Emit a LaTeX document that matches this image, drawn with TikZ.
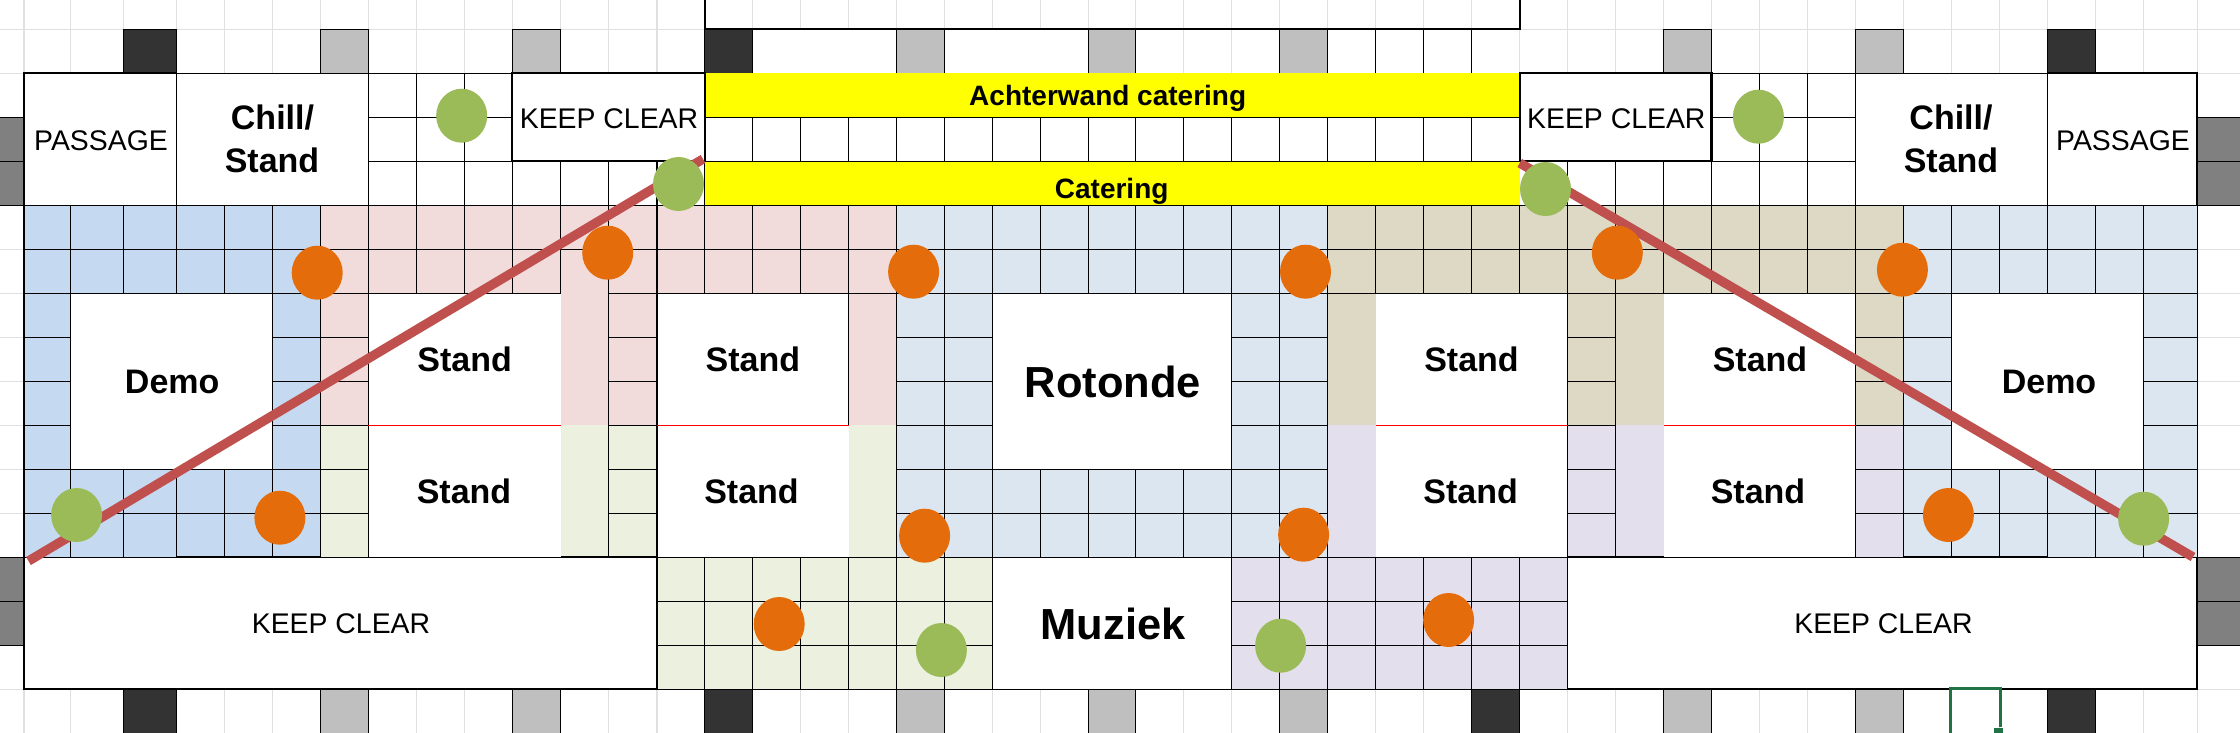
\documentclass[tikz,border=0pt]{standalone}
\usepackage{fontspec}
\setmainfont{Liberation Sans}
\usetikzlibrary{shapes.geometric}
\definecolor{gridlight}{HTML}{E0E0E0}
\definecolor{bandblue}{HTML}{C5D9F1}
\definecolor{bandpale}{HTML}{DCE6F1}
\definecolor{bandpink}{HTML}{F2DCDB}
\definecolor{bandtan}{HTML}{DDD9C4}
\definecolor{bandgreen}{HTML}{EBF1DE}
\definecolor{bandlav}{HTML}{E4DFEC}
\definecolor{dotorange}{HTML}{E46C0A}
\definecolor{dotgreen}{HTML}{9BBB59}
\definecolor{slashred}{HTML}{C0504D}
\definecolor{selgreen}{HTML}{217346}
\definecolor{cdark}{HTML}{333333}
\definecolor{cgray}{HTML}{BFBFBF}
\definecolor{cmid}{HTML}{808080}
\definecolor{banneryellow}{HTML}{FFFF00}
\definecolor{purered}{HTML}{FF0000}
\tikzset{
  thincell/.style={draw=black,line width=0.8pt},
  heavy/.style={draw=black,line width=1.6pt},
  slash/.style={draw=slashred,line width=7pt},
  dotbase/.style={ellipse,inner sep=0pt,minimum width=38.25pt,minimum height=40.5pt,draw=none},
  odot/.style={dotbase,fill=dotorange},
  gdot/.style={dotbase,fill=dotgreen},
  lbl/.style={anchor=base,inner sep=0pt,text=black},
  plainlbl/.style={lbl,font=\fontsize{21.3pt}{21.3pt}\selectfont},
  standlbl/.style={lbl,font=\bfseries\fontsize{25.5pt}{25.5pt}\selectfont},
  biglbl/.style={lbl,font=\bfseries\fontsize{32.6pt}{32.6pt}\selectfont},
  bannerlbl/.style={lbl,font=\bfseries\fontsize{21pt}{21pt}\selectfont},
}
\newcommand\cellsgrid[5]{%
  \fill[#1] (x#2|-y#3) rectangle (x#4|-y#5);
  \foreach \a in {#2,...,#4}{\draw[thincell] (x\a|-y#3) -- (x\a|-y#5);}
  \foreach \b in {#3,...,#5}{\draw[thincell] (x#2|-y\b) -- (x#4|-y\b);}
}
\newcommand\plainbox[5]{\fill[#1] (x#2|-y#3) rectangle (x#4|-y#5);}
\newcommand\edgebox[5]{\filldraw[fill=#1,thincell] (x#2|-y#3) rectangle (x#4|-y#5);}
\newcommand\vseg[3]{\draw[thincell] (x#1|-y#2) -- (x#1|-y#3);}
\newcommand\hseg[3]{\draw[thincell] (x#1|-y#3) -- (x#2|-y#3);}
\newcommand\hheavy[3]{\draw[heavy] (x#1|-y#3) -- (x#2|-y#3);}
\begin{document}
\begin{tikzpicture}[x=0.75pt,y=-0.75pt]
\useasboundingbox (0,0) rectangle (2240,732);
\fill[white] (0,0) rectangle (2240,732);
\foreach \v [count=\i from 0] in {24,70.3,123.4,176.5,224.4,272.7,320.6,368.4,416.7,464.6,512.4,560.8,608.6,657,704.8,752.4,800.7,848.6,896.4,944.7,992.6,1040.4,1088.8,1135.6,1183.5,1231.8,1279.7,1327.5,1375.8,1423.7,1471.5,1519.7,1567.5,1615.4,1663.7,1711.5,1759.4,1807.7,1855.5,1903.4,1951.7,1999.6,2047.9,2095.7,2143.6,2197.2,2250}
  {\coordinate (x\i) at (\v,0);}
\foreach \v [count=\i from 0] in {29.3,73.3,117.3,161.3,205.3,249.3,293.3,337.3,381.3,425.3,469.3,513.3,557.3,601.3,645.3,689.3,740}
  {\coordinate (y\i) at (0,\v);}
\coordinate (xm) at (-10,0);
\coordinate (ym) at (0,-10);
% light sheet grid
\foreach \i in {0,...,45}{\draw[gridlight,line width=0.8pt] (x\i|-ym) -- (x\i|-y16);}
\foreach \k in {0,...,15}{\draw[gridlight,line width=0.8pt] (xm|-y\k) -- (x46|-y\k);}
% strip above the hall
\plainbox{white}{15}{0}{18}{1}
\plainbox{white}{19}{0}{22}{1}
\foreach \i in {27,28,29,30}{\vseg{\i}{0}{1}}
\hseg{16}{17}{1}
\hseg{19}{21}{1}
\hseg{25}{26}{1}
\hseg{27}{30}{1}
\foreach \i/\c in {2/cdark,6/cgray,10/cgray,14/cdark,18/cgray,22/cgray,26/cgray,34/cgray,38/cgray,42/cdark}{
  \pgfmathtruncatemacro\j{\i+1}
  \edgebox{\c}{\i}{0}{\j}{1}
}
\foreach \i/\c in {2/cdark,6/cgray,10/cgray,14/cdark,18/cgray,22/cgray,26/cgray,30/cdark,34/cgray,38/cgray,42/cdark}{
  \pgfmathtruncatemacro\j{\i+1}
  \edgebox{\c}{\i}{15}{\j}{16}
}
\draw[heavy] (x14|-ym) -- (x14|-y0) -- (x31|-y0) -- (x31|-ym);
% side doors
\fill[cmid] (xm|-y2) rectangle (x0|-y4);
\draw[thincell] (xm|-y2) -- (x0|-y2) (xm|-y3) -- (x0|-y3) (xm|-y4) -- (x0|-y4);
\fill[cmid] (xm|-y12) rectangle (x0|-y14);
\draw[thincell] (xm|-y12) -- (x0|-y12) (xm|-y13) -- (x0|-y13) (xm|-y14) -- (x0|-y14);
\fill[cmid] (x45|-y2) rectangle (x46|-y4);
\draw[thincell] (x45|-y2) -- (x46|-y2) (x45|-y3) -- (x46|-y3) (x45|-y4) -- (x46|-y4);
\fill[cmid] (x45|-y12) rectangle (x46|-y14);
\draw[thincell] (x45|-y12) -- (x46|-y12) (x45|-y13) -- (x46|-y13) (x45|-y14) -- (x46|-y14);
% upper white cells
\cellsgrid{white}{7}{1}{10}{4}
\cellsgrid{white}{10}{3}{14}{4}
\cellsgrid{white}{14}{2}{31}{3}
\cellsgrid{white}{31}{3}{35}{4}
\cellsgrid{white}{35}{1}{38}{4}
% main band
\cellsgrid{bandblue}{0}{4}{6}{6}
\cellsgrid{bandpink}{6}{4}{18}{6}
\cellsgrid{bandpale}{18}{4}{27}{6}
\cellsgrid{bandtan}{27}{4}{39}{6}
\cellsgrid{bandpale}{39}{4}{45}{6}
% left demo
\cellsgrid{bandblue}{0}{6}{1}{10}
\cellsgrid{bandblue}{5}{6}{6}{10}
\cellsgrid{bandblue}{0}{10}{6}{12}
% aisles, pink over green
\cellsgrid{bandpink}{6}{6}{7}{9}
\cellsgrid{bandgreen}{6}{9}{7}{12}
\plainbox{bandpink}{11}{6}{12}{9}
\plainbox{bandgreen}{11}{9}{12}{12}
\cellsgrid{bandpink}{12}{6}{13}{9}
\cellsgrid{bandgreen}{12}{9}{13}{12}
\plainbox{bandpink}{17}{6}{18}{9}
\plainbox{bandgreen}{17}{9}{18}{12}
% rotonde surround
\cellsgrid{bandpale}{18}{6}{20}{12}
\cellsgrid{bandpale}{25}{6}{27}{12}
\cellsgrid{bandpale}{20}{10}{25}{12}
% right aisles
\plainbox{bandtan}{27}{6}{28}{9}
\plainbox{bandlav}{27}{9}{28}{12}
\cellsgrid{bandtan}{32}{6}{33}{9}
\cellsgrid{bandlav}{32}{9}{33}{12}
\plainbox{bandtan}{33}{6}{34}{9}
\plainbox{bandlav}{33}{9}{34}{12}
\cellsgrid{bandtan}{38}{6}{39}{9}
\cellsgrid{bandlav}{38}{9}{39}{12}
% right demo
\cellsgrid{bandpale}{39}{6}{40}{10}
\cellsgrid{bandpale}{44}{6}{45}{10}
\cellsgrid{bandpale}{39}{10}{45}{12}
% bottom band
\cellsgrid{bandgreen}{13}{12}{20}{15}
\cellsgrid{bandlav}{25}{12}{32}{15}
% white stands and boxes
\edgebox{white}{0}{1}{3}{4}
\edgebox{white}{3}{1}{7}{4}
\edgebox{white}{38}{1}{42}{4}
\edgebox{white}{42}{1}{45}{4}
\edgebox{white}{1}{6}{5}{10}
\edgebox{white}{40}{6}{44}{10}
\edgebox{white}{20}{6}{25}{10}
\edgebox{white}{20}{12}{25}{15}
\plainbox{white}{7}{6}{11}{12}
\plainbox{white}{13}{6}{17}{12}
\plainbox{white}{28}{6}{32}{12}
\plainbox{white}{34}{6}{38}{12}
\foreach \i in {7,12,13,27,32,33,38}{\vseg{\i}{6}{12}}
\vseg{17}{6}{9}
\hseg{7}{11}{6}
\hseg{13}{18}{6}
\hseg{27}{32}{6}
\hseg{33}{38}{6}
\hseg{7}{13}{12}
\hseg{13}{20}{12}
\hseg{25}{45}{12}
\foreach \p/\q in {7/11,13/17,28/32,34/38}{\draw[purered,line width=0.8pt] (x\p|-y9) -- (x\q|-y9);}
% yellow banners
\fill[banneryellow] (x14|-y1) rectangle (x31|-y2);
\fill[banneryellow] (x14|-y3) rectangle (x31|-y4);
\draw[thincell] (x14|-y2) -- (x31|-y2) (x14|-y3) -- (x31|-y3) (x14|-y4) -- (x31|-y4);
% keep clear boxes
\filldraw[fill=white,thincell] (x0|-y12) rectangle (x13|-y15);
\filldraw[fill=white,thincell] (x32|-y12) rectangle (x45|-y15);
\filldraw[fill=white,heavy] (x10|-y1) rectangle (x14|-y3);
\filldraw[fill=white,heavy] (x31|-y1) rectangle (x35|-y3);
% heavier edges
\draw[heavy] (x3|-y1) -- (x0|-y1) -- (x0|-y4);
\draw[heavy] (x42|-y1) -- (x45|-y1) -- (x45|-y4);
\draw[heavy] (x0|-y12) -- (x0|-y15) -- (x13|-y15);
\draw[heavy] (x32|-y15) -- (x45|-y15) -- (x45|-y12);
\hheavy{3}{6}{12}
\hheavy{11}{13}{12}
\hheavy{32}{34}{12}
\hheavy{39}{42}{12}
% labels
\node[plainlbl] (passL) at (101,150) {PASSAGE};
\node[plainlbl] (passR) at (2123,150) {PASSAGE};
\node[standlbl] (chillL) at (272.5,129.3) {Chill/};
\node[standlbl] (chillLb) at (272,172.3) {Stand};
\node[standlbl] (chillR) at (1951,129.3) {Chill/};
\node[standlbl] (chillRb) at (1951,172.3) {Stand};
\node[plainlbl] (keepA) at (609,128.3) {KEEP CLEAR};
\node[plainlbl] (keepB) at (1616.3,128.3) {KEEP CLEAR};
\node[plainlbl] (keepC) at (341,633.3) {KEEP CLEAR};
\node[plainlbl] (keepD) at (1883.5,633.3) {KEEP CLEAR};
\node[bannerlbl] (achter) at (1107.7,105) {Achterwand catering};
\node[bannerlbl] (cater) at (1111.7,198.3) {Catering};
\node[standlbl] (st1) at (464.6,371.7) {Stand};
\node[standlbl] (st2) at (752.9,371.7) {Stand};
\node[standlbl] (st3) at (1471.5,371.7) {Stand};
\node[standlbl] (st4) at (1760,371.7) {Stand};
\node[standlbl] (st5) at (464,503.3) {Stand};
\node[standlbl] (st6) at (751.5,503.3) {Stand};
\node[standlbl] (st7) at (1470.6,503.3) {Stand};
\node[standlbl] (st8) at (1758,503.3) {Stand};
\node[standlbl] (demoL) at (172.2,393.3) {Demo};
\node[standlbl] (demoR) at (2049,393.3) {Demo};
\node[biglbl] (roto) at (1113,397.3) {Rotonde};
\node[biglbl] (muz) at (1113,639.3) {Muziek};
% diagonals
\coordinate (slashLa) at (28.5,561);
\coordinate (slashLb) at (703,159);
\coordinate (slashRa) at (1519.7,163);
\coordinate (slashRb) at (2193,557);
\draw[slash] (slashLa) -- (slashLb);
\draw[slash] (slashRa) -- (slashRb);
% markers
\node[odot] (o1) at (317.2,272.7) {};
\node[odot] (o2) at (607.7,252.7) {};
\node[odot] (o3) at (913.6,271.7) {};
\node[odot] (o4) at (1305.5,271.7) {};
\node[odot] (o5) at (1617.3,252.7) {};
\node[odot] (o6) at (1902.4,269.7) {};
\node[odot] (o7) at (279.9,517.7) {};
\node[odot] (o8) at (1948.4,515) {};
\node[odot] (o9) at (924.6,535.7) {};
\node[odot] (o10) at (1303.6,534.7) {};
\node[odot] (o11) at (779.2,624) {};
\node[odot] (o12) at (1448.6,620) {};
\node[gdot] (g1) at (461.7,115.7) {};
\node[gdot] (g2) at (678.5,184) {};
\node[gdot] (g3) at (1758.4,116.7) {};
\node[gdot] (g4) at (1545.5,189) {};
\node[gdot] (g5) at (76.6,515) {};
\node[gdot] (g6) at (2143.6,518.7) {};
\node[gdot] (g7) at (941.4,650) {};
\node[gdot] (g8) at (1280.6,645.7) {};
% selected sheet cell
\draw[selgreen,line width=2.25pt] (1950.5,740) -- (1950.5,688.5) -- (2000.5,688.5) -- (2000.5,726.7);
\fill[selgreen] (1994,728) rectangle (2003,740);
\end{tikzpicture}
\end{document}
